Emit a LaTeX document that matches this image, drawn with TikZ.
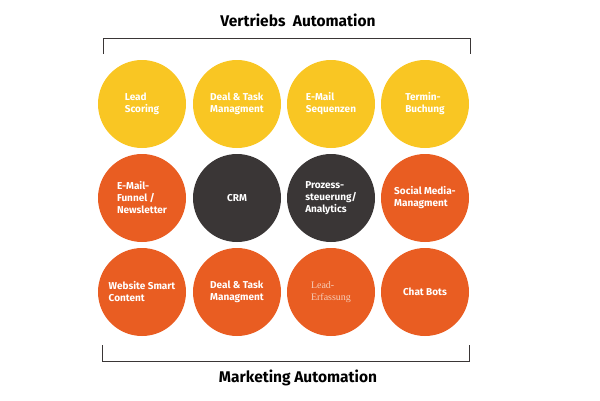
\documentclass[tikz,border=0pt]{standalone}
\usepackage{fontspec}
\setmainfont{Fira Sans}
\newfontfamily\serifleicht{Liberation Serif}
\usetikzlibrary{positioning}
\definecolor{gelb}{HTML}{F9C623}
\definecolor{orange}{HTML}{E95D22}
\definecolor{dunkel}{HTML}{3A3636}
\definecolor{pfirsich}{HTML}{F6CDB8}
\tikzset{
  kreis/.style={circle, minimum size=88pt, inner sep=0pt, text=white,
    font=\fontsize{10}{12}\selectfont\bfseries, align=left},
  gelbkreis/.style={kreis, fill=gelb},
  orangekreis/.style={kreis, fill=orange},
  dunkelkreis/.style={kreis, fill=dunkel},
  titel/.style={font=\fontsize{15.5}{18}\selectfont\bfseries, text=black}
}
\begin{document}
\begin{tikzpicture}[x=1pt,y=-1pt]
	\useasboundingbox (0,0) rectangle (600,400);
	% Kopf
	\node[titel] (vertrieb) at (298,20) {Vertriebs\ \ Automation};
	\draw[dunkel, line width=1pt] (103,54) -- (103,38) -- (470,38) -- (470,54);
	% Reihe 1
	\node[gelbkreis] (scoring) at (142,104) {Lead\\Scoring};
	\node[gelbkreis] (dealoben) at (237,104) {Deal \& Task\\Managment};
	\node[gelbkreis] (sequenz) at (331,104) {E-Mail\\Sequenzen};
	\node[gelbkreis] (termin) at (425,104) {Termin-\\Buchung};
	% Reihe 2
	\node[orangekreis] (funnel) at (142,198) {E-Mail-\\Funnel /\\Newsletter};
	\node[dunkelkreis] (crm) at (237,198) {CRM};
	\node[dunkelkreis] (prozess) at (331,198) {Prozess-\\steuerung/\\Analytics};
	\node[orangekreis] (social) at (425,198) {Social Media-\\Managment};
	% Reihe 3
	\node[orangekreis] (website) at (142,292) {Website Smart\\Content};
	\node[orangekreis] (dealunten) at (237,292) {Deal \& Task\\Managment};
	\node[orangekreis, text=pfirsich, font=\serifleicht\fontsize{10}{12}\selectfont] (erfassung) at (331,292) {Lead-\\Erfassung};
	\node[orangekreis] (chat) at (425,292) {Chat Bots};
	% Fuss
	\draw[dunkel, line width=1pt] (102,345) -- (102,361) -- (469,361) -- (469,345);
	\node[titel] (marketing) at (298,378) {Marketing Automation};
\end{tikzpicture}
\end{document}
